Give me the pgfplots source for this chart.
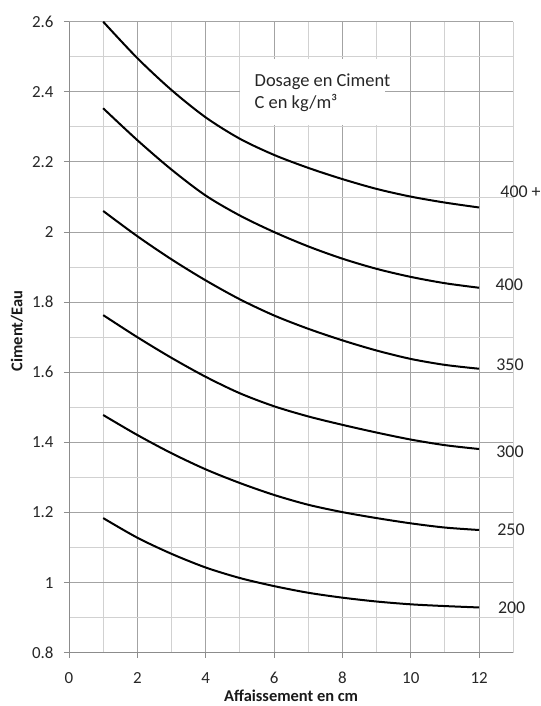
\documentclass[border=0pt]{standalone}
\usepackage{pgfplots}
\pgfplotsset{compat=1.18}
\usepackage{fontspec}
\setmainfont{Carlito}
\begin{document}
\begin{tikzpicture}
\useasboundingbox (-69bp,-53.3bp) rectangle (472bp,652.7bp);
\begin{axis}[
  at={(0,0)}, anchor=south west,
  scale only axis, width=444.3bp, height=631bp,
  xmin=0, xmax=13, ymin=0.8, ymax=2.6,
  xtick={0,2,4,6,8,10,12},
  ytick={0.8,1,1.2,1.4,1.6,1.8,2,2.2,2.4,2.6},
  minor xtick={1,3,5,7,9,11,13},
  minor ytick={0.9,1.1,1.3,1.5,1.7,1.9,2.1,2.3,2.5},
  grid=both,
  major grid style={black!36, line width=0.9bp},
  minor grid style={black!18, line width=0.9bp},
  axis lines=left,
  axis line style={-, black!45, line width=0.9bp},
  tick align=outside,
  major tick length=5bp, minor tick length=0pt,
  tick style={black!45, line width=0.9bp},
  /pgf/number format/assume math mode=true,
  ticklabel style={font=\fontsize{17}{20}\selectfont, text=black!85},
  yticklabel style={xshift=-7bp},
  xticklabel style={yshift=-11bp},
  xlabel={\textbf{Affaissement en cm}},
  ylabel={\textbf{Ciment/Eau}},
  label style={font=\fontsize{16.5}{19}\selectfont, text=black!90},
  x label style={at={(axis description cs:0.5,-0.0685)}, anchor=center, inner sep=0pt},
  y label style={at={(axis description cs:-0.117,0.51)}, anchor=center},
  clip=false,
]
\fill[white] (axis cs:5,2.305) rectangle (axis cs:9.25,2.495);
\node[anchor=west, font=\fontsize{18.5}{21}\selectfont, text=black!85] at (axis cs:5.33,2.428) {Dosage en Ciment};
\node[anchor=west, font=\fontsize{18.5}{21}\selectfont, text=black!85] at (axis cs:5.33,2.368) {C en kg/m³};

\addplot[black, line width=2bp, smooth] coordinates {
(1,2.600) (2,2.496) (3,2.405) (4,2.327) (5,2.266) (6,2.220) (7,2.183) (8,2.151) (9,2.123) (10,2.101) (11,2.084) (12,2.070)};
\addplot[black, line width=2bp, smooth] coordinates {
(1,2.353) (2,2.262) (3,2.178) (4,2.104) (5,2.047) (6,2.000) (7,1.959) (8,1.924) (9,1.895) (10,1.872) (11,1.854) (12,1.841)};
\addplot[black, line width=2bp, smooth] coordinates {
(1,2.060) (2,1.988) (3,1.922) (4,1.862) (5,1.808) (6,1.762) (7,1.724) (8,1.691) (9,1.662) (10,1.638) (11,1.621) (12,1.610)};
\addplot[black, line width=2bp, smooth] coordinates {
(1,1.763) (2,1.700) (3,1.641) (4,1.587) (5,1.540) (6,1.503) (7,1.474) (8,1.450) (9,1.428) (10,1.408) (11,1.392) (12,1.381)};
\addplot[black, line width=2bp, smooth] coordinates {
(1,1.478) (2,1.421) (3,1.369) (4,1.323) (5,1.284) (6,1.250) (7,1.222) (8,1.201) (9,1.184) (10,1.169) (11,1.157) (12,1.150)};
\addplot[black, line width=2bp, smooth] coordinates {
(1,1.184) (2,1.128) (3,1.082) (4,1.043) (5,1.013) (6,0.990) (7,0.971) (8,0.957) (9,0.946) (10,0.938) (11,0.933) (12,0.929)};

\node[anchor=west, font=\fontsize{18}{21}\selectfont, text=black!85] at (axis cs:12.52,2.114) {400 +};
\node[anchor=west, font=\fontsize{18}{21}\selectfont, text=black!85] at (axis cs:12.38,1.849) {400};
\node[anchor=west, font=\fontsize{18}{21}\selectfont, text=black!85] at (axis cs:12.40,1.621) {350};
\node[anchor=west, font=\fontsize{18}{21}\selectfont, text=black!85] at (axis cs:12.40,1.373) {300};
\node[anchor=west, font=\fontsize{18}{21}\selectfont, text=black!85] at (axis cs:12.43,1.150) {250};
\node[anchor=west, font=\fontsize{18}{21}\selectfont, text=black!85] at (axis cs:12.45,0.928) {200};
\end{axis}
\end{tikzpicture}
\end{document}
